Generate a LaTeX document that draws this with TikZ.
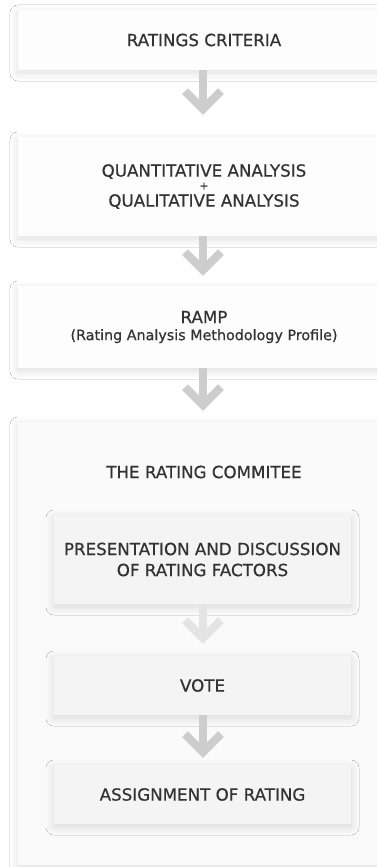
\documentclass[tikz,border=0pt]{standalone}
\usepackage{fontspec}
\setmainfont{DejaVu Sans}[FakeBold=0.6]
\usetikzlibrary{
  arrows.meta,
  shadows.blur,
}
\definecolor{inktext}{HTML}{333333}
\definecolor{stagefill}{HTML}{FDFDFD}
\definecolor{panelfill}{HTML}{FAFAFA}
\definecolor{stepfill}{HTML}{F4F4F4}
\definecolor{flowgrey}{HTML}{CDCDCD}
\definecolor{flowlight}{HTML}{E4E4E4}
\tikzset{
  stage/.style={fill=stagefill, minimum width=372pt, inner sep=0pt, text=inktext,
    align=center, font=\fontsize{16.7}{20}\selectfont,
    blur shadow={shadow xshift=0pt, shadow yshift=-3pt, shadow blur radius=8pt,
      shadow blur steps=12, shadow opacity=13}},
  panel/.style={stage, fill=panelfill},
  stepbox/.style={stage, fill=stepfill, minimum width=297pt},
  flow/.style={draw=flowgrey, line width=8pt, line join=miter,
    -{Straight Barb[length=18pt, width=36pt]}},
}
\begin{document}
\begin{tikzpicture}[x=1pt, y=-1pt]
\clip (0,0) rectangle (377,867);
\fill[white] (0,0) rectangle (377,867);
% main stages
\node[stage, minimum height=60pt] (crit) at (204,40) {RATINGS CRITERIA};
\node[stage, minimum height=99pt] (quant) at (204,186.5)
  {QUANTITATIVE ANALYSIS\\[-7pt]{\fontsize{11}{11}\selectfont +}\\[-3pt]QUALITATIVE ANALYSIS};
\node[stage, minimum height=82pt] (ramp) at (204,327)
  {RAMP\\[-3pt]{\fontsize{14.3}{16}\selectfont (Rating Analysis Methodology Profile)}};
\node[panel, minimum height=443pt] (comm) at (204,643.5) {};
\node[text=inktext, font=\fontsize{16.7}{20}\selectfont] (commtitle) at (204,472) {THE RATING COMMITEE};
% committee steps
\node[stepbox, minimum height=89pt] (pres) at (202.5,559.5)
  {PRESENTATION AND DISCUSSION\\[1pt]OF RATING FACTORS};
\node[stepbox, minimum height=59pt] (vote) at (202.5,685.5) {VOTE};
\node[stepbox, minimum height=59pt] (assign) at (202.5,794.5) {ASSIGNMENT OF RATING};
% arrows
\draw[flow, shorten >=22pt] (crit.south -| 203,0) -- (quant.north -| 203,0);
\draw[flow, shorten >=10pt] (quant.south -| 203,0) -- (ramp.north -| 203,0);
\draw[flow, shorten >=11pt] (ramp.south -| 203,0) -- (comm.north -| 203,0);
\draw[flow, draw=flowlight, shorten >=12pt] (pres.south -| 203,0) -- (vote.north -| 203,0);
\draw[flow, shorten >=7pt] (vote.south -| 203,0) -- (assign.north -| 203,0);
\end{tikzpicture}
\end{document}
